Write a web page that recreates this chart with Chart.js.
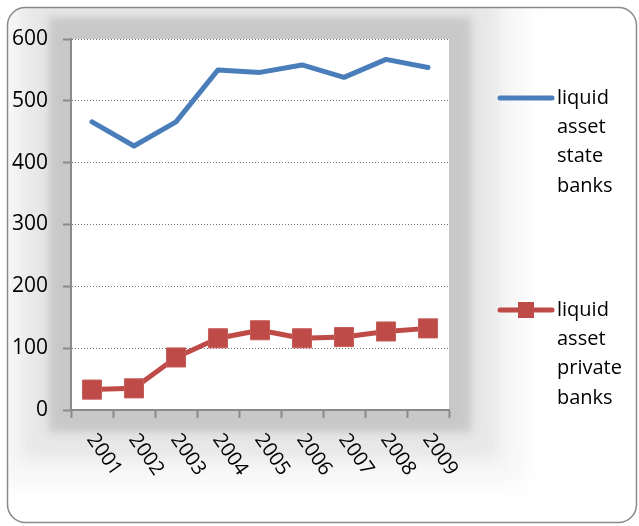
<!DOCTYPE html>
<html>
<head>
<meta charset="utf-8">
<script src="https://cdn.jsdelivr.net/npm/chart.js@4/dist/chart.umd.min.js"></script>
<style>
  body { margin: 0; background: #fff; }
  canvas { display: block; }
</style>
</head>
<body>
<canvas id="chart" width="639" height="526"></canvas>
<script>
// Liquid assets by year
var years = ["2001", "2002", "2003", "2004", "2005", "2006", "2007", "2008", "2009"];
var stateBanks = [466, 427, 466, 550, 546, 558, 538, 567, 554];
var privateBanks = [33, 35, 85, 116, 129, 116, 118, 127, 132];
var stateLabel = ["liquid", "asset", "state", "banks"];
var privateLabel = ["liquid", "asset", "private", "banks"];
var yMin = 0, yMax = 600, yStep = 100;

var FONT = "'Open Sans', 'DejaVu Sans', sans-serif";
var AXIS_GRAY = "#8a8a8a";

// soft stepped shadow: [grow, colour, blur]
var shadowLayers = [
  [76, "#f7f7f7", 10],
  [49, "#e7e7e7", 8],
  [22, "#c8c8c8", 4]
];

// frame, plot shadow, rotated year labels and the side legend
var decorations = {
  id: "decorations",
  beforeDraw: function (chart) {
    var ctx = chart.ctx, a = chart.chartArea;
    ctx.save();
    ctx.fillStyle = "#fff";
    ctx.fillRect(0, 0, chart.width, chart.height);
    ctx.beginPath();
    ctx.roundRect(7.5, 7.5, 629, 515, 18);
    ctx.clip();
    shadowLayers.forEach(function (l) {
      ctx.filter = "blur(" + l[2] + "px)";
      ctx.fillStyle = l[1];
      ctx.fillRect(a.left - l[0], a.top - l[0], a.right - a.left + 2 * l[0], a.bottom - a.top + 2 * l[0]);
    });
    ctx.filter = "none";
    ctx.fillStyle = "#fff";
    ctx.fillRect(a.left, a.top, a.right - a.left, a.bottom - a.top);
    ctx.restore();

    ctx.save();
    ctx.beginPath();
    ctx.roundRect(7.5, 7.5, 629, 515, 18);
    ctx.strokeStyle = "#8a8a8a";
    ctx.lineWidth = 1.5;
    ctx.stroke();
    ctx.restore();
  },
  afterDraw: function (chart) {
    var ctx = chart.ctx, a = chart.chartArea;
    var xs = chart.scales.x;

    // year labels, turned clockwise
    ctx.save();
    ctx.font = "20px " + FONT;
    ctx.fillStyle = "#000";
    ctx.textAlign = "left";
    ctx.textBaseline = "middle";
    years.forEach(function (y, i) {
      ctx.save();
      ctx.translate(xs.getPixelForValue(i) - 1, a.bottom + 26);
      ctx.rotate(55 * Math.PI / 180);
      ctx.fillText(y, 0, 0);
      ctx.restore();
    });
    ctx.restore();

    // legend
    var tops = [98, 310];
    chart.data.datasets.forEach(function (ds, i) {
      var y = tops[i];
      ctx.save();
      ctx.strokeStyle = ds.borderColor;
      ctx.lineWidth = 5;
      ctx.lineCap = "round";
      ctx.beginPath();
      ctx.moveTo(500, y);
      ctx.lineTo(552, y);
      ctx.stroke();
      if (ds.pointRadius > 0) {
        ctx.fillStyle = ds.pointBackgroundColor;
        ctx.fillRect(518, y - 8, 16, 16);
      }
      ctx.font = "20px " + FONT;
      ctx.fillStyle = "#000";
      ctx.textAlign = "left";
      ctx.textBaseline = "middle";
      ds.label.forEach(function (line, k) {
        ctx.fillText(line, 557, y + k * 29.3);
      });
      ctx.restore();
    });
  }
};

new Chart(document.getElementById("chart"), {
  type: "line",
  data: {
    labels: years,
    datasets: [
      {
        label: stateLabel,
        data: stateBanks,
        borderColor: "#4a7ebb",
        borderWidth: 5,
        borderCapStyle: "round",
        borderJoinStyle: "round",
        pointRadius: 0,
        tension: 0
      },
      {
        label: privateLabel,
        data: privateBanks,
        borderColor: "#be4b48",
        borderWidth: 5,
        borderJoinStyle: "round",
        pointStyle: "rect",
        pointRadius: 13.5,
        pointBackgroundColor: "#be4b48",
        pointBorderColor: "#c55d5a",
        pointBorderWidth: 1,
        tension: 0
      }
    ]
  },
  options: {
    responsive: false,
    animation: false,
    layout: { padding: { left: 0, top: 39, right: 190, bottom: 0 } },
    plugins: {
      legend: { display: false },
      tooltip: { enabled: false }
    },
    scales: {
      x: {
        offset: true,
        ticks: { display: false },
        grid: {
          offset: true,
          drawOnChartArea: false,
          drawTicks: true,
          tickLength: 8,
          tickColor: AXIS_GRAY,
          tickWidth: 2
        },
        border: { color: AXIS_GRAY, width: 2 },
        afterFit: function (scale) { scale.height = 116; }
      },
      y: {
        min: yMin,
        max: yMax,
        ticks: {
          stepSize: yStep,
          padding: 15,
          color: "#000",
          font: { family: FONT, size: 21 }
        },
        grid: {
          color: "#7a7a7a",
          lineWidth: 1,
          tickLength: 8,
          tickColor: AXIS_GRAY,
          tickWidth: 2,
          tickBorderDash: []
        },
        border: { color: AXIS_GRAY, width: 2, dash: [1, 2] },
        afterFit: function (scale) { scale.width = 71; }
      }
    }
  },
  plugins: [decorations]
});
</script>
</body>
</html>
